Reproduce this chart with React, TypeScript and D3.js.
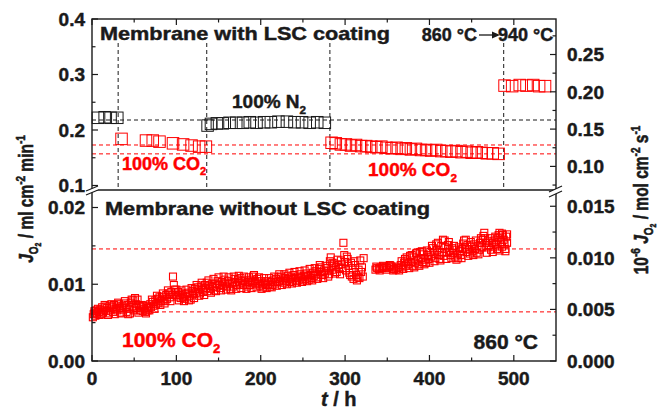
import React from 'react';
import * as d3 from 'd3';

const W = 660;
const H = 412;
const FONT = '"Liberation Sans", Arial, Helvetica, sans-serif';
const RED = '#ff0000';
const INK = '#1a1a1a';

// ml cm^-2 min^-1  ->  10^-6 mol cm^-2 s^-1
const TO_MOL = 0.744;

// time (h) at which the feed gas / temperature was switched
const switchTimes = [31, 136, 282, 488];
// reference levels, upper panel (ml cm^-2 min^-1)
const refN2 = [0.218];
const refCO2Upper = [0.173, 0.157];
// reference levels, lower panel
const refCO2Lower = [0.0146, 0.0064];

// upper panel: membrane with LSC coating  [t (h), J_O2]
const coatedN2a: [number, number][] = [
  [7, 0.222], [15, 0.223], [22, 0.222], [30, 0.222],
];
const coatedCO2a: [number, number][] = [
  [35, 0.184], [64, 0.181], [72, 0.181], [80, 0.179], [96, 0.176],
  [108, 0.174], [118, 0.172], [127, 0.170], [135, 0.170],
];
const coatedN2b: [number, number][] = [
  [137, 0.208], [141, 0.211], [148, 0.212], [155, 0.212], [163, 0.213],
  [171, 0.213], [179, 0.213], [187, 0.214], [195, 0.213], [204, 0.214],
  [212, 0.214], [221, 0.215], [231, 0.215], [240, 0.214], [249, 0.214],
  [258, 0.213], [267, 0.214], [276, 0.213],
];
const coatedCO2b: [number, number][] = [
  [284, 0.177], [289, 0.176], [295, 0.174], [301, 0.174], [307, 0.172],
  [313, 0.173], [319, 0.171], [325, 0.171], [331, 0.170], [337, 0.169],
  [343, 0.170], [349, 0.168], [355, 0.167], [361, 0.168], [367, 0.166],
  [372, 0.167], [378, 0.165], [384, 0.166], [390, 0.164], [396, 0.164],
  [402, 0.163], [408, 0.164], [414, 0.162], [420, 0.162], [426, 0.161],
  [432, 0.162], [438, 0.160], [444, 0.161], [450, 0.159], [456, 0.160],
  [462, 0.159], [468, 0.158], [475, 0.158], [482, 0.157],
];
const coatedCO2hot: [number, number][] = [
  [489, 0.280], [498, 0.279], [507, 0.281], [515, 0.280], [523, 0.281],
  [530, 0.279], [537, 0.279],
];

// lower panel: membrane without LSC coating, 100% CO2  [t (h), J_O2]
const bareCO2: [number, number][] = [
  [1, 0.0057], [2, 0.0061], [3, 0.0063], [4, 0.0059], [5, 0.0066], [6, 0.0062], [7, 0.0068], [8, 0.0064],
  [9, 0.0060], [10, 0.0067], [12, 0.0070], [13, 0.0063], [14, 0.0066], [16, 0.0071], [17, 0.0065], [18, 0.0069],
  [20, 0.0062], [21, 0.0072], [22, 0.0067], [24, 0.0070], [25, 0.0064], [26, 0.0073], [28, 0.0068], [29, 0.0071],
  [30, 0.0066], [32, 0.0074], [33, 0.0069], [34, 0.0063], [36, 0.0072], [37, 0.0067], [38, 0.0075], [40, 0.0070],
  [41, 0.0064], [42, 0.0073], [44, 0.0068], [45, 0.0062], [46, 0.0076], [48, 0.0071], [49, 0.0079], [50, 0.0066],
  [51, 0.0082], [52, 0.0074], [53, 0.0069], [54, 0.0080], [56, 0.0072], [57, 0.0066], [58, 0.0070], [60, 0.0065],
  [62, 0.0068], [63, 0.0064], [65, 0.0071], [66, 0.0066], [67, 0.0069], [69, 0.0074], [70, 0.0070], [72, 0.0077],
  [73, 0.0072], [75, 0.0079], [76, 0.0074], [78, 0.0081], [79, 0.0076], [80, 0.0083], [82, 0.0078], [83, 0.0084],
  [85, 0.0080], [86, 0.0075], [88, 0.0086], [89, 0.0081], [91, 0.0088], [92, 0.0083], [94, 0.0090], [95, 0.0086],
  [96, 0.0110], [97, 0.0099], [98, 0.0093], [99, 0.0088], [101, 0.0084], [102, 0.0090], [104, 0.0086], [105, 0.0082],
  [107, 0.0088], [108, 0.0084], [110, 0.0081], [111, 0.0087], [113, 0.0083], [114, 0.0089], [116, 0.0085], [117, 0.0080],
  [119, 0.0091], [120, 0.0087], [122, 0.0094], [123, 0.0089], [125, 0.0096], [126, 0.0092], [128, 0.0088], [129, 0.0097],
  [131, 0.0093], [132, 0.0090], [134, 0.0099], [135, 0.0095], [136, 0.0102], [137, 0.0091], [139, 0.0098], [140, 0.0094],
  [142, 0.0100], [143, 0.0096], [145, 0.0092], [146, 0.0101], [148, 0.0097], [149, 0.0104], [151, 0.0099], [152, 0.0095],
  [154, 0.0103], [155, 0.0098], [157, 0.0106], [158, 0.0101], [160, 0.0097], [161, 0.0104], [163, 0.0100], [164, 0.0094],
  [166, 0.0102], [167, 0.0097], [169, 0.0107], [170, 0.0103], [172, 0.0099], [173, 0.0106], [175, 0.0101], [176, 0.0108],
  [178, 0.0104], [179, 0.0099], [181, 0.0105], [182, 0.0101], [184, 0.0097], [185, 0.0103], [187, 0.0099], [188, 0.0106],
  [190, 0.0102], [191, 0.0110], [193, 0.0104], [194, 0.0100], [196, 0.0107], [197, 0.0102], [199, 0.0098], [200, 0.0104],
  [202, 0.0100], [203, 0.0096], [205, 0.0102], [206, 0.0099], [208, 0.0104], [209, 0.0100], [211, 0.0097], [212, 0.0103],
  [214, 0.0099], [215, 0.0105], [217, 0.0101], [218, 0.0107], [220, 0.0103], [221, 0.0109], [223, 0.0104], [224, 0.0110],
  [226, 0.0106], [227, 0.0102], [229, 0.0108], [230, 0.0104], [232, 0.0111], [233, 0.0107], [235, 0.0103], [236, 0.0109],
  [238, 0.0105], [239, 0.0112], [241, 0.0108], [242, 0.0104], [244, 0.0110], [245, 0.0106], [247, 0.0113], [248, 0.0109],
  [250, 0.0105], [251, 0.0111], [253, 0.0107], [254, 0.0114], [256, 0.0110], [257, 0.0106], [259, 0.0112], [260, 0.0108],
  [262, 0.0115], [263, 0.0111], [265, 0.0117], [266, 0.0113], [268, 0.0109], [269, 0.0120], [270, 0.0125], [272, 0.0116],
  [273, 0.0112], [275, 0.0118], [276, 0.0114], [278, 0.0121], [279, 0.0117], [281, 0.0113], [282, 0.0130], [283, 0.0135],
  [284, 0.0124], [286, 0.0119], [287, 0.0127], [289, 0.0122], [290, 0.0116], [292, 0.0125], [293, 0.0120], [295, 0.0131],
  [296, 0.0126], [297, 0.0121], [298, 0.0154], [299, 0.0138], [300, 0.0129], [301, 0.0118], [303, 0.0133], [304, 0.0124],
  [305, 0.0115], [307, 0.0128], [308, 0.0110], [309, 0.0121], [310, 0.0107], [312, 0.0125], [313, 0.0112], [314, 0.0105],
  [316, 0.0119], [317, 0.0108], [318, 0.0131], [319, 0.0116], [320, 0.0122], [321, 0.0110], [322, 0.0134],
  [336, 0.0119], [338, 0.0121], [340, 0.0120], [342, 0.0122], [344, 0.0121], [346, 0.0123], [348, 0.0122], [350, 0.0121],
  [352, 0.0123], [354, 0.0124], [356, 0.0122], [358, 0.0120], [360, 0.0119], [362, 0.0121], [364, 0.0118], [366, 0.0125],
  [367, 0.0130], [368, 0.0122], [370, 0.0128], [371, 0.0133], [372, 0.0124], [374, 0.0131], [375, 0.0126], [377, 0.0137],
  [378, 0.0129], [380, 0.0124], [381, 0.0135], [383, 0.0128], [384, 0.0140], [386, 0.0131], [387, 0.0126], [389, 0.0142],
  [390, 0.0134], [392, 0.0129], [393, 0.0139], [395, 0.0132], [396, 0.0128], [398, 0.0138], [399, 0.0133], [401, 0.0142],
  [402, 0.0136], [404, 0.0147], [405, 0.0140], [407, 0.0134], [408, 0.0152], [409, 0.0145], [411, 0.0138], [412, 0.0133],
  [414, 0.0150], [415, 0.0142], [417, 0.0137], [418, 0.0157], [419, 0.0148], [421, 0.0141], [422, 0.0151], [424, 0.0144],
  [425, 0.0138], [427, 0.0147], [428, 0.0141], [430, 0.0136], [431, 0.0145], [433, 0.0139], [434, 0.0134], [436, 0.0143],
  [437, 0.0138], [439, 0.0146], [440, 0.0153], [441, 0.0157], [442, 0.0148], [444, 0.0142], [445, 0.0151], [447, 0.0145],
  [448, 0.0140], [450, 0.0149], [451, 0.0143], [453, 0.0152], [454, 0.0146], [456, 0.0141], [457, 0.0150], [459, 0.0145],
  [460, 0.0154], [462, 0.0148], [463, 0.0158], [464, 0.0163], [465, 0.0167], [466, 0.0160], [467, 0.0154], [469, 0.0148],
  [470, 0.0156], [471, 0.0151], [473, 0.0145], [474, 0.0154], [476, 0.0149], [477, 0.0157], [479, 0.0152], [480, 0.0146],
  [481, 0.0160], [482, 0.0164], [483, 0.0167], [484, 0.0161], [485, 0.0155], [486, 0.0149], [487, 0.0164], [488, 0.0158],
  [489, 0.0152], [490, 0.0146], [491, 0.0162], [492, 0.0154],
  [3, 0.0065], [11, 0.0061], [15, 0.0073], [19, 0.0060], [23, 0.0074], [27, 0.0061], [31, 0.0076], [35, 0.0062],
  [39, 0.0078], [43, 0.0061], [47, 0.0080], [55, 0.0063], [59, 0.0073], [61, 0.0072], [64, 0.0062], [68, 0.0066],
  [71, 0.0080], [74, 0.0068], [77, 0.0085], [81, 0.0073], [84, 0.0088], [87, 0.0078], [90, 0.0092], [93, 0.0078],
  [100, 0.0093], [103, 0.0079], [106, 0.0092], [109, 0.0078], [112, 0.0093], [115, 0.0079], [118, 0.0095], [121, 0.0082],
  [124, 0.0099], [127, 0.0085], [130, 0.0102], [133, 0.0086], [138, 0.0105], [141, 0.0089], [144, 0.0107], [147, 0.0091],
  [150, 0.0109], [153, 0.0092], [156, 0.0110], [159, 0.0093], [162, 0.0109], [165, 0.0092], [168, 0.0110], [171, 0.0094],
  [174, 0.0111], [177, 0.0095], [180, 0.0110], [183, 0.0094], [186, 0.0109], [189, 0.0095], [192, 0.0112], [195, 0.0096],
  [198, 0.0109], [201, 0.0094], [204, 0.0108], [207, 0.0095], [210, 0.0108], [213, 0.0096], [216, 0.0110], [219, 0.0098],
  [222, 0.0113], [225, 0.0099], [228, 0.0113], [231, 0.0100], [234, 0.0115], [237, 0.0101], [240, 0.0116], [243, 0.0102],
  [246, 0.0117], [249, 0.0103], [252, 0.0118], [255, 0.0104], [258, 0.0120], [261, 0.0105], [264, 0.0121], [267, 0.0107],
  [271, 0.0122], [274, 0.0108], [277, 0.0124], [280, 0.0110], [285, 0.0128], [288, 0.0114], [291, 0.0132], [294, 0.0113],
  [302, 0.0136], [306, 0.0112], [311, 0.0130], [315, 0.0109], [337, 0.0123], [341, 0.0118], [345, 0.0124], [349, 0.0119],
  [353, 0.0125], [357, 0.0118], [363, 0.0123], [369, 0.0120], [373, 0.0135], [376, 0.0121], [379, 0.0138], [382, 0.0122],
  [385, 0.0141], [388, 0.0124], [391, 0.0143], [394, 0.0126], [397, 0.0144], [400, 0.0128], [403, 0.0150], [406, 0.0130],
  [410, 0.0154], [413, 0.0131], [416, 0.0158], [420, 0.0133], [423, 0.0155], [426, 0.0134], [429, 0.0150], [432, 0.0132],
  [435, 0.0148], [438, 0.0134], [443, 0.0158], [446, 0.0137], [449, 0.0155], [452, 0.0138], [455, 0.0157], [458, 0.0139],
  [461, 0.0160], [468, 0.0141], [472, 0.0160], [475, 0.0142], [478, 0.0162], [483, 0.0144], [486, 0.0166], [490, 0.0143],
  [492, 0.0165],
];

// axis ticks
const xMajor = [0, 100, 200, 300, 400, 500];
const xMinor = [50, 150, 250, 350, 450];
const yUpperMajor = [0.1, 0.2, 0.3, 0.4];
const yUpperMinor = [0.15, 0.25, 0.35];
const yLowerMajor = [0, 0.01, 0.02];
const yLowerMinor = [0.005, 0.015];
const rUpperMajor = [0.1, 0.15, 0.2, 0.25];
const rUpperMinor = [0.075, 0.125, 0.175, 0.225, 0.275];
const rLowerMajor = [0, 0.005, 0.01, 0.015];
const rLowerMinor = [0.0025, 0.0075, 0.0125];

// frame
const L = 92;
const R = 556;
const T = 19;
const M = 190;
const B = 361;
const VLINE_TOP = 43;

const x = d3.scaleLinear().domain([0, 550]).range([L, R]);
const yU = d3.scaleLinear().domain([0.1, 0.4]).range([185.5, T]);
const yL = d3.scaleLinear().domain([0, 0.02]).range([B, 207.5]);
const yUR = d3.scaleLinear().domain(yU.domain().map((v) => v * TO_MOL)).range(yU.range());
const yLR = d3.scaleLinear().domain(yL.domain().map((v) => v * TO_MOL)).range(yL.range());

const MAJ = 6;
const MIN = 3.5;
const TICK_FS = 19;
const HEAVY = 0.45;

function Squares({ data, y, color, size, sw = 1 }: { data: [number, number][]; y: d3.ScaleLinear<number, number>; color: string; size: number; sw?: number }) {
  return (
    <g fill="none" stroke={color} strokeWidth={sw}>
      {data.map(([t, v], i) => (
        <rect key={i} x={x(t) - size / 2} y={y(v) - size / 2} width={size} height={size} />
      ))}
    </g>
  );
}

function Label({ x0, y0, main, sub, color = INK, fs = 19 }: { x0: number; y0: number; main: string; sub: string; color?: string; fs?: number }) {
  return (
    <text x={x0} y={y0} fill={color} stroke={color} strokeWidth={HEAVY} fontSize={fs} fontWeight="bold">
      {main}
      <tspan dy={fs * 0.3} fontSize={fs * 0.62}>{sub}</tspan>
    </text>
  );
}

export default function App() {
  const fmt2 = d3.format('.2f');
  const fmt3 = d3.format('.3f');
  const fmt1 = d3.format('.1f');
  const arrowY = 35;
  return (
    <svg width={W} height={H} viewBox={`0 0 ${W} ${H}`} style={{ position: 'absolute', left: 0, top: 0, background: '#fff' }} fontFamily={FONT}>
      <rect width={W} height={H} fill="#fff" />

      {/* reference lines */}
      <g strokeWidth={1} strokeDasharray="4,3" fill="none">
        {switchTimes.map((t) => (
          <line key={t} x1={x(t)} x2={x(t)} y1={VLINE_TOP} y2={M} stroke={INK} />
        ))}
        {refN2.map((v) => (
          <line key={v} x1={L} x2={R} y1={yU(v)} y2={yU(v)} stroke={INK} />
        ))}
        {refCO2Upper.map((v) => (
          <line key={v} x1={L} x2={R} y1={yU(v)} y2={yU(v)} stroke={RED} />
        ))}
        {refCO2Lower.map((v) => (
          <line key={v} x1={L} x2={R} y1={yL(v)} y2={yL(v)} stroke={RED} />
        ))}
      </g>

      {/* data */}
      <Squares data={coatedN2a} y={yU} color={INK} size={11.5} />
      <Squares data={coatedN2b} y={yU} color={INK} size={11.5} />
      <Squares data={coatedCO2a} y={yU} color={RED} size={11.5} />
      <Squares data={coatedCO2b} y={yU} color={RED} size={11.5} />
      <Squares data={coatedCO2hot} y={yU} color={RED} size={11.5} />
      <Squares data={bareCO2} y={yL} color={RED} size={7} sw={1.1} />

      {/* frame */}
      <g stroke={INK} strokeWidth={1.4} fill="none">
        <rect x={L} y={T} width={R - L} height={B - T} />
        <line x1={L} x2={R} y1={M} y2={M} />
      </g>

      {/* ticks */}
      <g stroke={INK} strokeWidth={1.2}>
        {xMajor.map((t) => (
          <g key={t}>
            <line x1={x(t)} x2={x(t)} y1={B} y2={B - MAJ} />
            <line x1={x(t)} x2={x(t)} y1={T} y2={T + MAJ} />
          </g>
        ))}
        {xMinor.map((t) => (
          <g key={t}>
            <line x1={x(t)} x2={x(t)} y1={B} y2={B - MIN} />
            <line x1={x(t)} x2={x(t)} y1={T} y2={T + MIN} />
          </g>
        ))}
        {yUpperMajor.map((v) => <line key={v} x1={L} x2={L + MAJ} y1={yU(v)} y2={yU(v)} />)}
        {yUpperMinor.map((v) => <line key={v} x1={L} x2={L + MIN} y1={yU(v)} y2={yU(v)} />)}
        {yLowerMajor.map((v) => <line key={v} x1={L} x2={L + MAJ} y1={yL(v)} y2={yL(v)} />)}
        {yLowerMinor.map((v) => <line key={v} x1={L} x2={L + MIN} y1={yL(v)} y2={yL(v)} />)}
        {rUpperMajor.map((v) => <line key={v} x1={R} x2={R - MAJ} y1={yUR(v)} y2={yUR(v)} />)}
        {rUpperMinor.map((v) => <line key={v} x1={R} x2={R - MIN} y1={yUR(v)} y2={yUR(v)} />)}
        {rLowerMajor.map((v) => <line key={v} x1={R} x2={R - MAJ} y1={yLR(v)} y2={yLR(v)} />)}
        {rLowerMinor.map((v) => <line key={v} x1={R} x2={R - MIN} y1={yLR(v)} y2={yLR(v)} />)}
      </g>

      {/* axis breaks */}
      <g stroke={INK} strokeWidth={1.2}>
        <polygon points={`${L - 6},${M + 1} ${L + 6},${M - 4} ${L + 6},${M} ${L - 6},${M + 5}`} fill="#fff" stroke="none" />
        <line x1={L - 6} x2={L + 6} y1={M + 1} y2={M - 4} />
        <line x1={L - 6} x2={L + 6} y1={M + 5} y2={M} />
        <polygon points={`${R - 7},${M + 2} ${R + 6},${M - 4} ${R + 6},${M + 1} ${R - 7},${M + 7}`} fill="#fff" stroke="none" />
        <line x1={R - 7} x2={R + 6} y1={M + 2} y2={M - 4} />
        <line x1={R - 7} x2={R + 6} y1={M + 7} y2={M + 1} />
      </g>

      {/* tick labels */}
      <g fontSize={TICK_FS} fontWeight="bold" fill={INK} stroke={INK} strokeWidth={HEAVY}>
        {yUpperMajor.map((v) => (
          <text key={v} x={L - 7} y={yU(v)} dy="0.36em" textAnchor="end">{fmt1(v)}</text>
        ))}
        {yLowerMajor.map((v) => (
          <text key={v} x={L - 7} y={yL(v)} dy="0.36em" textAnchor="end">{fmt2(v)}</text>
        ))}
        {rUpperMajor.map((v) => (
          <text key={v} x={R + 11} y={yUR(v)} dy="0.36em">{fmt2(v)}</text>
        ))}
        {rLowerMajor.map((v) => (
          <text key={v} x={R + 11} y={yLR(v)} dy="0.36em">{fmt3(v)}</text>
        ))}
        {xMajor.map((t) => (
          <text key={t} x={x(t)} y={385} textAnchor="middle">{t}</text>
        ))}
      </g>

      {/* axis titles */}
      <g fill={INK} stroke={INK} strokeWidth={HEAVY} fontWeight="bold">
        <text x={321} y={406} fontSize={20}>
          <tspan fontStyle="italic">t</tspan> / h
        </text>
        <text transform="translate(33,199) scale(1.3,1) rotate(-90)" textAnchor="middle" fontSize={15.5}>
          <tspan fontStyle="italic">J</tspan>
          <tspan dy={4} fontSize={10}>O</tspan>
          <tspan dy={2.5} fontSize={7}>2</tspan>
          <tspan dy={-6.5} fontSize={15.5}> / ml cm</tspan>
          <tspan dy={-6.5} fontSize={10}>-2</tspan>
          <tspan dy={6.5} fontSize={15.5}> min</tspan>
          <tspan dy={-6.5} fontSize={10}>-1</tspan>
        </text>
        <text transform="translate(648,200) scale(1.3,1) rotate(-90)" textAnchor="middle" fontSize={15.5}>
          10
          <tspan dy={-6.5} fontSize={10}>-6</tspan>
          <tspan dy={6.5} fontSize={15.5} fontStyle="italic"> J</tspan>
          <tspan dy={4} fontSize={10}>O</tspan>
          <tspan dy={2.5} fontSize={7}>2</tspan>
          <tspan dy={-6.5} fontSize={15.5}> / mol cm</tspan>
          <tspan dy={-6.5} fontSize={10}>-2</tspan>
          <tspan dy={6.5} fontSize={15.5}> s</tspan>
          <tspan dy={-6.5} fontSize={10}>-1</tspan>
        </text>
      </g>

      {/* annotations */}
      <g fontWeight="bold" fill={INK} stroke={INK} strokeWidth={HEAVY}>
        <text x={100} y={40} fontSize={19} textLength={290} lengthAdjust="spacingAndGlyphs">Membrane with LSC coating</text>
        <text x={477} y={41} fontSize={18} textAnchor="end">860 °C</text>
        <text x={498} y={41} fontSize={18}>940 °C</text>
        <text x={105} y={215} fontSize={19} textLength={325} lengthAdjust="spacingAndGlyphs">Membrane without LSC coating</text>
        <text x={538} y={349} fontSize={21} textAnchor="end">860 °C</text>
      </g>
      <line x1={479} x2={493} y1={arrowY} y2={arrowY} stroke={INK} strokeWidth={1.3} />
      <polygon points={`${492},${arrowY - 3.5} ${500},${arrowY} ${492},${arrowY + 3.5}`} fill={INK} />
      <Label x0={232} y0={108} main="100% N" sub="2" fs={19} />
      <Label x0={122} y0={170} main="100% CO" sub="2" fs={18} color={RED} />
      <Label x0={368} y0={176} main="100% CO" sub="2" fs={19} color={RED} />
      <Label x0={122} y0={347} main="100% CO" sub="2" fs={21} color={RED} />
    </svg>
  );
}
